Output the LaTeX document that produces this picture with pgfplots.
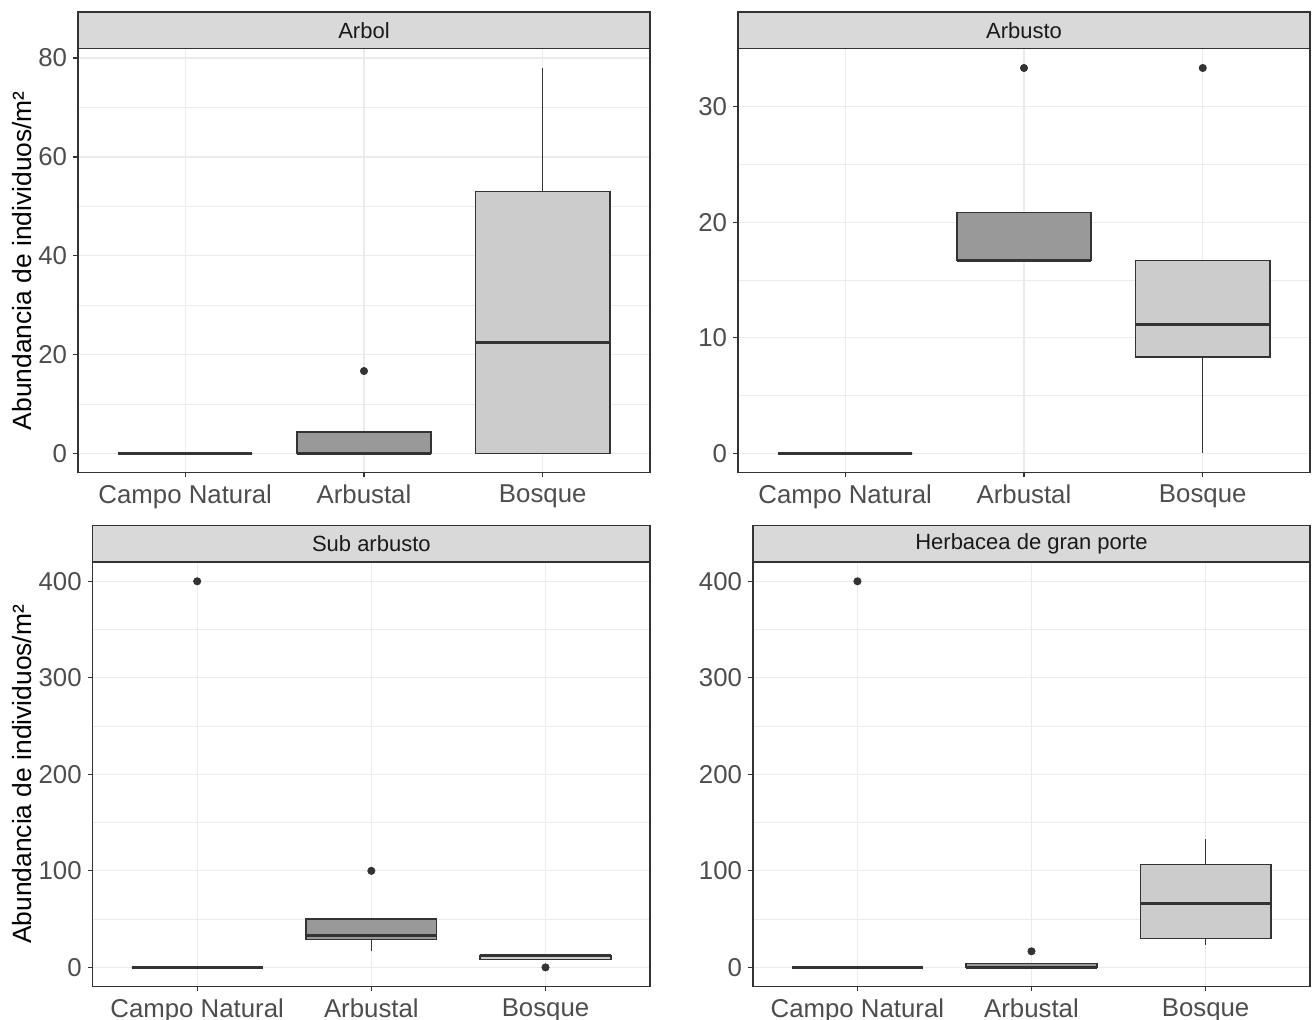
\documentclass[border=0pt]{standalone}
\usepackage{fontspec}
\setmainfont{Liberation Sans}
\usepackage{pgfplots}
\pgfplotsset{compat=1.18}
\usepgfplotslibrary{statistics}
\definecolor{c20}{HTML}{333333}
\definecolor{c30}{HTML}{4D4D4D}
\definecolor{c10}{HTML}{1A1A1A}
\definecolor{stripc}{HTML}{D9D9D9}
\definecolor{gridc}{HTML}{EBEBEB}
\definecolor{fCN}{HTML}{FFFFFF}
\definecolor{fArb}{HTML}{999999}
\definecolor{fBos}{HTML}{CCCCCC}

\newcommand{\bx}[7]{%
\addplot[draw=c20, fill=#2, line width=0.75pt,
  boxplot prepared={draw direction=y, draw position=#1, box extend=0.75,
    lower whisker=#3, lower quartile=#4, median=#5,
    upper quartile=#6, upper whisker=#7, whisker extend=0,
    every median/.style={line width=1.5pt},
    every whisker/.style={line width=0.5pt}}] coordinates {};}
\newcommand{\outl}[1]{%
\addplot[only marks, mark=*, mark size=1.8pt, draw=c20, fill=c20] coordinates {#1};}

\pgfplotsset{
  facet/.style={
    scale only axis,
    xmin=0.4, xmax=3.6,
    xtick={1,2,3}, xticklabels={Campo Natural,Arbustal,Bosque},
    xtick pos=bottom, ytick pos=left,
    grid=both,
    major grid style={draw=gridc, line width=0.6pt},
    minor grid style={draw=gridc, line width=0.35pt},
    axis line style={draw=c20, line width=0.75pt},
    major tick style={draw=c20, line width=0.6pt},
    minor tick length=0pt,
    tick align=outside, major tick length=2.3pt,
    ticklabel style={font=\fontsize{12.9}{14}\selectfont, text=c30},
    yticklabel style={anchor=east, inner sep=0pt, xshift=-3pt},
    xticklabel style={anchor=north, inner sep=0pt, yshift=-3.5pt},
    /pgf/number format/assume math mode=true,
    ylabel style={font=\fontsize{13.2}{15}\selectfont, text=black, anchor=center},
    clip=false,
  },
}
\newcommand{\strip}[1]{%
  \draw[draw=c20, fill=stripc, line width=0.75pt] (rel axis cs:0,1) rectangle ([yshift=18.3pt]rel axis cs:1,1);
  \node[font=\fontsize{11}{12}\selectfont, text=c10] at ([yshift=9.15pt]rel axis cs:0.5,1) {#1};}

\begin{document}
\begin{tikzpicture}
\path[use as bounding box] (0,0) rectangle (656.5pt,510pt);

% Arbol
\begin{axis}[facet, at={(39pt,273.65pt)}, anchor=south west, width=286pt, height=212pt,
  ymin=-3.9, ymax=81.9, ytick={0,20,40,60,80}, minor ytick={10,30,50,70},
  ylabel={Abundancia de individuos/m²},
  ylabel style={at={(axis description cs:-0.0979,0.5)}}]
\bx{1}{fCN}{0}{0}{0}{0}{0}
\bx{2}{fArb}{0}{0}{0}{4.3}{4.3}
\bx{3}{fBos}{0}{0}{22.5}{53}{78}
\outl{(2,16.67)}
\strip{Arbol}
\end{axis}

% Arbusto
\begin{axis}[facet, at={(369pt,273.65pt)}, anchor=south west, width=286pt, height=212pt,
  ymin=-1.667, ymax=35.0, ytick={0,10,20,30}, minor ytick={5,15,25}]
\bx{1}{fCN}{0}{0}{0}{0}{0}
\bx{2}{fArb}{16.67}{16.67}{16.67}{20.83}{20.83}
\bx{3}{fBos}{0}{8.33}{11.11}{16.67}{16.67}
\outl{(2,33.33) (3,33.33)}
\strip{Arbusto}
\end{axis}

% Sub arbusto
\begin{axis}[facet, at={(46.35pt,16.65pt)}, anchor=south west, width=278.65pt, height=212.35pt,
  ymin=-20, ymax=420, ytick={0,100,200,300,400}, minor ytick={50,150,250,350},
  ylabel={Abundancia de individuos/m²},
  ylabel style={at={(axis description cs:-0.1269,0.5)}}]
\bx{1}{fCN}{0}{0}{0}{0}{0}
\bx{2}{fArb}{16.67}{29}{33.33}{50}{50}
\bx{3}{fBos}{8.33}{8.33}{12}{12.5}{12.5}
\outl{(1,400) (2,100) (3,0)}
\strip{Sub arbusto}
\end{axis}

% Herbacea de gran porte
\begin{axis}[facet, at={(376.5pt,16.65pt)}, anchor=south west, width=278.5pt, height=212.35pt,
  ymin=-20, ymax=420, ytick={0,100,200,300,400}, minor ytick={50,150,250,350}]
\bx{1}{fCN}{0}{0}{0}{0}{0}
\bx{2}{fArb}{0}{0}{0}{4.17}{4.17}
\bx{3}{fBos}{22.9}{30}{66.7}{106.7}{133.3}
\outl{(1,400) (2,16.67)}
\strip{Herbacea de gran porte}
\end{axis}
\end{tikzpicture}
\end{document}
